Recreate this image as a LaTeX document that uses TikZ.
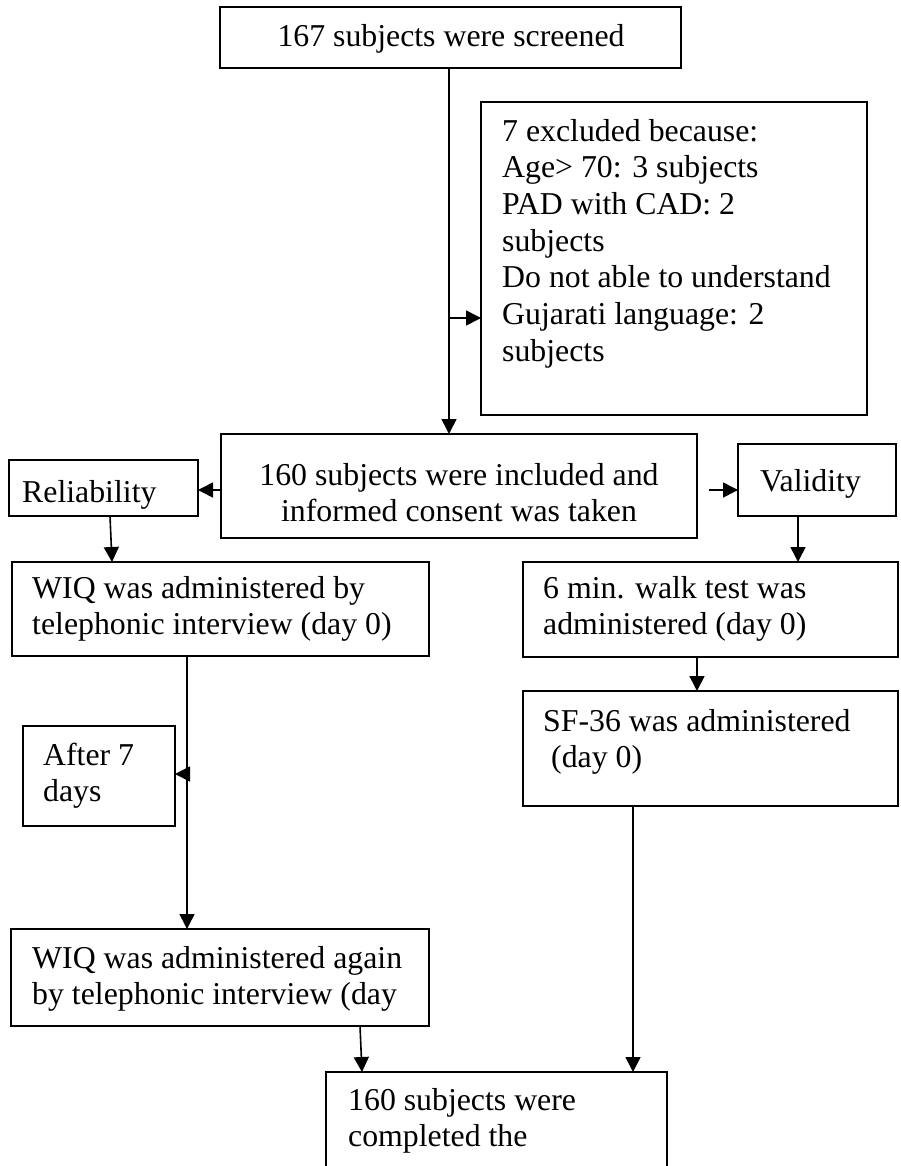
\documentclass[tikz,border=0pt]{standalone}
\usepackage{fontspec}
\setmainfont{Liberation Serif}
\usetikzlibrary{arrows.meta}
\begin{document}
\begin{tikzpicture}[x=1pt,y=-1pt,
  box/.style={draw, line width=1.6pt, rectangle, inner sep=0pt, outer sep=0pt, anchor=north west},
  txt/.style={font=\fontsize{31.8pt}{36.7pt}\selectfont, inner sep=0pt, align=left, anchor=base west},
  ctxt/.style={font=\fontsize{31.8pt}{36.7pt}\selectfont, inner sep=0pt, align=center, anchor=base},
  arr/.style={line width=1.6pt, -{Triangle[length=15pt,width=15pt]}}]
\useasboundingbox (0,0) rectangle (900,1166);
\clip (0,0) rectangle (900,1166);
% boxes
\node[box, minimum width=461pt, minimum height=61pt] (b1) at (220,7) {};
\node[box, minimum width=386pt, minimum height=313pt] (excl) at (481,102) {};
\node[box, minimum width=476pt, minimum height=104pt] (b160) at (221,434) {};
\node[box, minimum width=189pt, minimum height=56pt] (rel) at (9,460) {};
\node[box, minimum width=158pt, minimum height=72pt] (val) at (738,444) {};
\node[box, minimum width=417pt, minimum height=94pt] (wiq1) at (12,562) {};
\node[box, minimum width=375pt, minimum height=95pt] (six) at (523,562) {};
\node[box, minimum width=375pt, minimum height=115pt] (sf) at (523,691) {};
\node[box, minimum width=152pt, minimum height=100pt] (after) at (23,726) {};
\node[box, minimum width=418pt, minimum height=97pt] (wiq2) at (11,929) {};
\node[box, minimum width=341pt, minimum height=140pt] (fin) at (326,1072) {};
% texts (base = baseline of the last line)
\node[ctxt] (t1) at (451,47) {167 subjects were screened};
\node[txt] (texcl) at (502,361.2) {7 excluded because:\\Age> 70: 3 subjects\\PAD with CAD: 2\\subjects\\Do not able to understand\\Gujarati language: 2\\subjects};
\node[ctxt] (t160) at (459,521.7) {160 subjects were included and\\informed consent was taken};
\node[txt] (trel) at (22,502) {Reliability};
\node[txt] (tval) at (760,491) {Validity};
\node[txt] (twiq1) at (32,634.7) {WIQ was administered by\\telephonic interview (day 0)};
\node[txt] (tsix) at (543,634.7) {6 min. walk test was\\administered (day 0)};
\node[txt] (tsf) at (543,767.7) {SF-36 was administered\\\hspace*{8pt}(day 0)};
\node[txt] (tafter) at (43,801.7) {After 7\\days};
\node[txt] (twiq2) at (32,1004.7) {WIQ was administered again\\by telephonic interview (day};
\node[txt] (tfin) at (348,1146.7) {160 subjects were\\completed the};
% connectors
\coordinate (j1) at (449,318);
\coordinate (j2) at (709,490);
\coordinate (j3) at (187,774);
\draw[line width=1.6pt] (b1.south -| 449,0) -- (j1);
\draw[arr] (j1) -- (b160.north -| j1);
\draw[arr] (j1) -- (excl.west |- j1);
\draw[arr] (b160.west |- j2) -- (rel.east |- j2);
\draw[arr] (j2) -- (val.west |- j2);
\draw[arr] (rel.south -| 110,0) -- (wiq1.north -| 112,0);
\draw[arr] (val.south -| 798,0) -- (six.north -| 798,0);
\draw[arr] (six.south -| 697,0) -- (sf.north -| 697,0);
\draw[line width=1.6pt] (wiq1.south -| j3) -- (j3);
\draw[arr] (j3) -- (wiq2.north -| j3);
\draw[arr] (j3) -- (after.east |- j3);
\draw[arr] (wiq2.south -| 360,0) -- (fin.north -| 362,0);
\draw[arr] (sf.south -| 633,0) -- (fin.north -| 633,0);
\end{tikzpicture}
\end{document}
